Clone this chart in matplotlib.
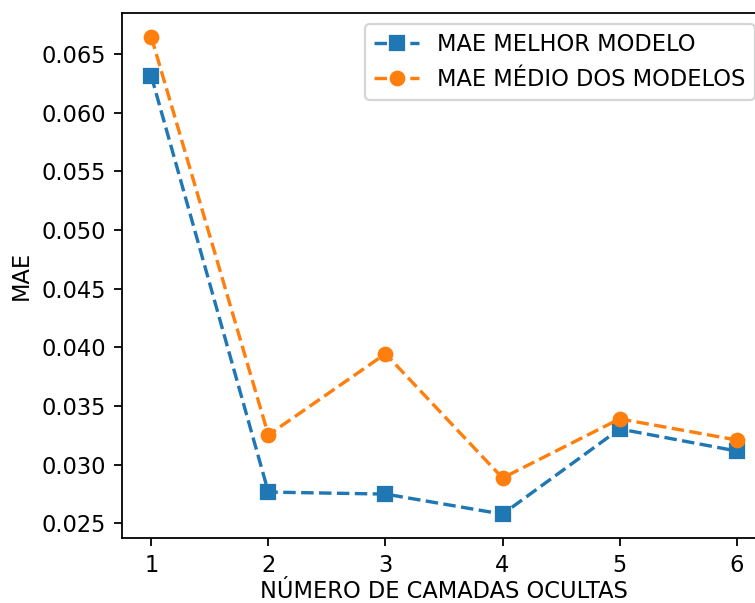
import matplotlib
matplotlib.use("Agg")
import matplotlib.pyplot as plt

camadas = [1, 2, 3, 4, 5, 6]
mae_melhor = [0.06312, 0.02765, 0.02748, 0.02577, 0.03303, 0.03115]
mae_medio = [0.06645, 0.03252, 0.03944, 0.02885, 0.03389, 0.03209]

DPI = 162
fig = plt.figure(figsize=(755/DPI, 603/DPI), dpi=DPI)
ax = fig.add_axes([122/755, 1-538/603, (766-122)/755, (538-13)/603])
ax.plot(camadas, mae_melhor, 's--', color='#1f77b4', label='MAE MELHOR MODELO')
ax.plot(camadas, mae_medio, 'o--', color='#ff7f0e', label='MAE MÉDIO DOS MODELOS')
ax.set_xlabel('NÚMERO DE CAMADAS OCULTAS', labelpad=1.5)
ax.set_ylabel('MAE')
ax.legend(loc='upper right')
fig.savefig('out.png', dpi=DPI)
